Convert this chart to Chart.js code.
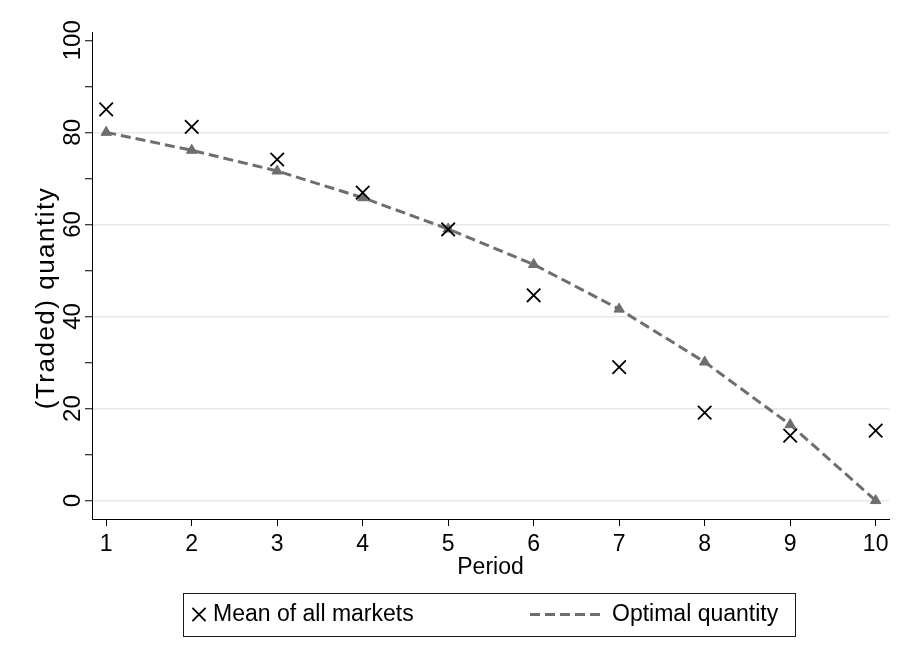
<!DOCTYPE html>
<html>
<head>
<meta charset="utf-8">
<script src="https://cdn.jsdelivr.net/npm/chart.js@4.4.1/dist/chart.umd.min.js"></script>
<style>
  html, body { margin: 0; padding: 0; background: #ffffff; }
  #wrap { width: 902px; height: 666px; position: relative; }
</style>
</head>
<body>
<div id="wrap"><canvas id="chart"></canvas></div>
<script>
// Market periods and quantities
const periods = [1, 2, 3, 4, 5, 6, 7, 8, 9, 10];
const meanAllMarkets = [85.0, 81.2, 74.1, 66.9, 58.9, 44.6, 29.0, 19.1, 14.1, 15.2];
const optimalQuantity = [80.0, 76.1, 71.6, 65.8, 59.0, 51.3, 41.6, 30.1, 16.5, 0.0];

// Axis ticks: marks every 10, labels every 20
const yTickValues = [0, 10, 20, 30, 40, 50, 60, 70, 80, 90, 100];
const yLabelStep = 20;

const seriesNames = ['Mean of all markets', 'Optimal quantity'];
const xTitle = 'Period';
const yTitle = '(Traded) quantity';

const FONT = "'Liberation Sans', Arial, sans-serif";
const TEXT_SIZE = 23;
const LINE_GREY = '#6e6e6e';

const toPoints = (ys) => periods.map((p, i) => ({ x: p, y: ys[i] }));

// Boxed legend below the plot plus the rotated y-axis title
const frameLegend = {
  id: 'frameLegend',
  afterDraw(chart) {
    const ctx = chart.ctx;
    const dsMean = chart.data.datasets[0];
    const dsOpt = chart.data.datasets[1];
    ctx.save();

    // y-axis title, rotated
    ctx.save();
    ctx.translate(47, 298);
    ctx.rotate(-Math.PI / 2);
    ctx.font = '26px ' + FONT;
    if ('letterSpacing' in ctx) ctx.letterSpacing = '1.5px';
    ctx.fillStyle = '#000';
    ctx.textAlign = 'center';
    ctx.textBaseline = 'middle';
    ctx.fillText(yTitle, 0, 0);
    ctx.restore();

    // legend frame
    ctx.strokeStyle = '#1a1a1a';
    ctx.lineWidth = 1;
    ctx.setLineDash([]);
    ctx.strokeRect(183.5, 593.5, 612, 43);

    const cy = 614.5;
    // cross marker
    const r = 6.6;
    ctx.strokeStyle = dsMean.borderColor;
    ctx.lineWidth = dsMean.borderWidth;
    ctx.beginPath();
    ctx.moveTo(199 - r, cy - r); ctx.lineTo(199 + r, cy + r);
    ctx.moveTo(199 + r, cy - r); ctx.lineTo(199 - r, cy + r);
    ctx.stroke();

    // dashed line sample
    ctx.strokeStyle = dsOpt.borderColor;
    ctx.lineWidth = dsOpt.borderWidth;
    ctx.setLineDash([10, 5]);
    ctx.beginPath();
    ctx.moveTo(530, cy); ctx.lineTo(600, cy);
    ctx.stroke();
    ctx.setLineDash([]);

    ctx.font = TEXT_SIZE + 'px ' + FONT;
    ctx.fillStyle = '#000';
    ctx.textAlign = 'left';
    ctx.textBaseline = 'middle';
    ctx.fillText(dsMean.label, 213, cy);
    ctx.fillText(dsOpt.label, 612, cy);
    ctx.restore();
  }
};

new Chart(document.getElementById('chart'), {
  type: 'scatter',
  data: {
    datasets: [
      {
        label: seriesNames[0],
        data: toPoints(meanAllMarkets),
        showLine: false,
        pointStyle: 'crossRot',
        pointRadius: 9.5,
        borderColor: '#000000',
        backgroundColor: '#000000',
        borderWidth: 1.8
      },
      {
        label: seriesNames[1],
        data: toPoints(optimalQuantity),
        showLine: true,
        borderColor: LINE_GREY,
        backgroundColor: LINE_GREY,
        borderWidth: 3,
        borderDash: [10, 5],
        pointStyle: 'triangle',
        pointRadius: 6,
        pointBackgroundColor: LINE_GREY,
        pointBorderColor: LINE_GREY,
        pointBorderWidth: 1,
        tension: 0
      }
    ]
  },
  options: {
    responsive: true,
    maintainAspectRatio: false,
    animation: false,
    layout: { padding: { top: 32, right: 13, bottom: 85, left: 0 } },
    plugins: {
      legend: { display: false },
      tooltip: { enabled: false }
    },
    scales: {
      x: {
        type: 'linear',
        min: 0.834,
        max: 10.156,
        afterBuildTicks: (s) => { s.ticks = periods.map(v => ({ value: v })); },
        afterFit: (s) => { s.height = 62; },
        grid: {
          drawOnChartArea: false,
          drawTicks: true,
          tickLength: 7,
          tickColor: '#000',
          tickWidth: 1
        },
        border: { display: true, color: '#000', width: 1 },
        ticks: {
          padding: 5,
          color: '#000',
          autoSkip: false,
          maxRotation: 0,
          font: { family: FONT, size: TEXT_SIZE }
        },
        title: {
          display: true,
          text: xTitle,
          color: '#000',
          font: { family: FONT, size: TEXT_SIZE },
          padding: { top: 0, bottom: 0 }
        }
      },
      y: {
        type: 'linear',
        min: -4,
        max: 101.8,
        afterBuildTicks: (s) => { s.ticks = yTickValues.map(v => ({ value: v })); },
        afterFit: (s) => { s.width = 92; },
        grid: {
          color: (c) => (c.tick && c.tick.value % yLabelStep === 0 && c.tick.value < 100) ? '#e3eaed' : 'rgba(0,0,0,0)',
          lineWidth: 1.5,
          drawTicks: true,
          tickLength: 7,
          tickColor: '#000',
          tickWidth: 1
        },
        border: { display: true, color: '#000', width: 1 },
        ticks: {
          minRotation: 90,
          maxRotation: 90,
          crossAlign: 'center',
          padding: -8,
          autoSkip: false,
          color: '#000',
          font: { family: FONT, size: 24 },
          callback: (v) => (v % yLabelStep === 0 ? String(v) : '')
        }
      }
    }
  },
  plugins: [frameLegend]
});
</script>
</body>
</html>
